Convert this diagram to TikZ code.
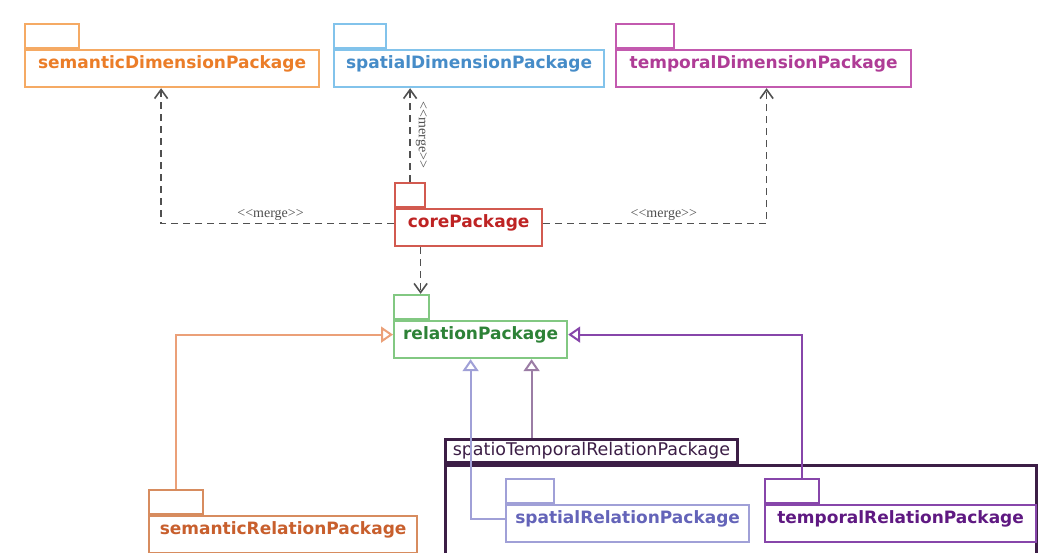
\documentclass[tikz,border=0pt]{standalone}
\usepackage{fontspec}
\setmainfont{DejaVu Sans}
\newfontfamily\mergefont{Liberation Serif}
\usetikzlibrary{positioning,arrows.meta}

\definecolor{semDimLine}{RGB}{245,170,100}
\definecolor{semDimText}{RGB}{235,125,40}
\definecolor{spaDimLine}{RGB}{130,195,235}
\definecolor{spaDimText}{RGB}{70,140,200}
\definecolor{temDimLine}{RGB}{195,90,175}
\definecolor{temDimText}{RGB}{175,60,150}
\definecolor{coreLine}{RGB}{210,90,80}
\definecolor{coreText}{RGB}{190,35,35}
\definecolor{relLine}{RGB}{130,200,130}
\definecolor{relText}{RGB}{45,130,55}
\definecolor{semRelLine}{RGB}{215,140,95}
\definecolor{semRelText}{RGB}{200,95,45}
\definecolor{spaRelLine}{RGB}{160,160,215}
\definecolor{spaRelText}{RGB}{100,100,185}
\definecolor{temRelLine}{RGB}{135,70,170}
\definecolor{temRelText}{RGB}{95,25,130}
\definecolor{stLine}{RGB}{60,30,70}
\definecolor{stArrow}{RGB}{155,125,165}
\definecolor{semArrow}{RGB}{235,160,120}
\definecolor{depGrey}{RGB}{80,80,80}

\begin{document}
\begin{tikzpicture}[x=1pt,y=-1pt,
  pkg/.style={draw,line width=2.2pt,anchor=north west,minimum height=37pt,inner xsep=6pt,inner ysep=3pt,text height=15pt,text depth=16pt,font=\fontsize{17}{17}\selectfont\bfseries},
  tab/.style={draw,line width=2.2pt,anchor=south west,minimum height=24pt,inner sep=0pt},
  dep/.style={draw=depGrey,line width=1.6pt,dash pattern=on 7pt off 5pt,-{Straight Barb[length=9pt,width=13pt]}},
  gen/.style={line width=2pt,-{Triangle[open,length=12pt,width=16pt,fill=white]}},
  merge/.style={font=\mergefont\fontsize{14}{14}\selectfont,text=depGrey,inner sep=2pt}]
\clip (0,0) rectangle (1052,552);
\fill[white] (0,0) rectangle (1052,552);

% the nested package
\node[draw=stLine,line width=2.8pt,anchor=north west,minimum width=591pt,minimum height=120pt] (stBox) at (444,464) {};
\node[draw=stLine,line width=2.8pt,anchor=south west,minimum width=292pt,minimum height=23pt,inner sep=0pt,text=stLine,font=\fontsize{17.5}{17.5}\selectfont] (stLabel) at (stBox.north west) {spatioTemporalRelationPackage};

% packages with their tabs
\foreach \pos/\name/\bw/\tw/\col/\disp in {{(24,49)/semDim/294pt/54pt/semDim/semanticDimensionPackage}, {(333,49)/spaDim/270pt/52pt/spaDim/spatialDimensionPackage}, {(615,49)/temDim/295pt/58pt/temDim/temporalDimensionPackage}, {(394,208)/core/147pt/30pt/core/corePackage}, {(393,320)/rel/173pt/35pt/rel/relationPackage}, {(148,515)/semRel/268pt/54pt/semRel/semanticRelationPackage}, {(505,504)/spaRel/243pt/48pt/spaRel/spatialRelationPackage}, {(764,504)/temRel/271pt/54pt/temRel/temporalRelationPackage}}
{
\node[pkg,draw=\col Line,text=\col Text,minimum width=\bw] (\name) at \pos {\disp};
\node[tab,draw=\col Line,minimum width=\tw] (\name Tab) at (\name.north west) {};
}

% merges
\draw[dep] ([yshift=4pt]core.west) -| ([xshift=-11pt]semDim.south) node[merge,pos=0.265,above] {<{}<merge>{}>};
\draw[dep] (coreTab.north) -- (coreTab.north |- spaDim.south) node[merge,pos=0.5,rotate=-90,anchor=south,inner sep=5pt] {<{}<merge>{}>};
\draw[dep] ([yshift=4pt]core.east) -| ([xshift=3pt]temDim.south) node[merge,pos=0.27,above] {<{}<merge>{}>};
\coordinate (relIn) at ([xshift=9pt]relTab.north);
\draw[dep] (core.south -| relIn) -- (relIn);

% generalisations
\coordinate (relInA) at ([xshift=-10pt]rel.south);
\coordinate (relInB) at ([xshift=51pt]rel.south);
\draw[gen,draw=semArrow] (semRelTab.north) |- ([yshift=5pt]rel.west);
\draw[gen,draw=spaRelLine] ([yshift=5pt]spaRel.west) -| (relInA);
\draw[gen,draw=stArrow] (stLabel.north -| relInB) -- (relInB);
\draw[gen,draw=temRelLine] ([xshift=10pt]temRelTab.north) |- ([yshift=5pt]rel.east);
\end{tikzpicture}
\end{document}
